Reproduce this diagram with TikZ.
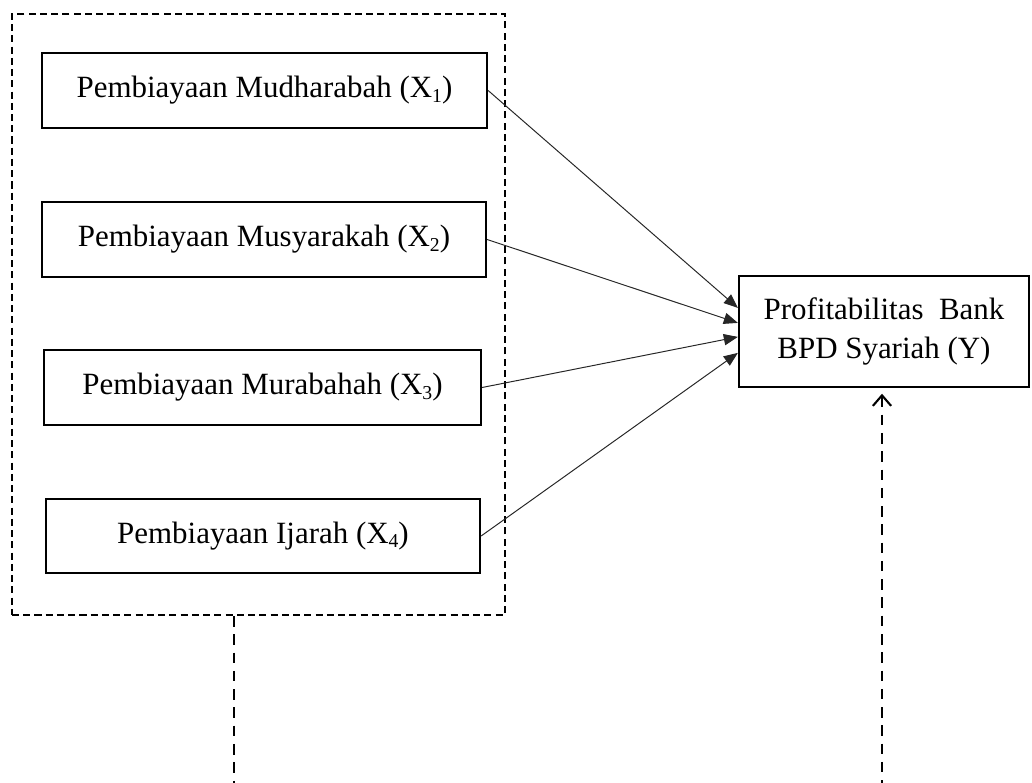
\documentclass[tikz,border=0pt]{standalone}
\usepackage{fontspec}
\setmainfont{Liberation Serif}
\usetikzlibrary{arrows.meta}

\newcommand{\xsub}[1]{\raisebox{-0.3ex}{\fontsize{14}{14}\selectfont #1}}

\begin{document}
\begin{tikzpicture}[
        varbox/.style={draw, line width=1.6pt, minimum height=1.875cm, inner sep=0pt,
            font=\fontsize{22}{27.6}\selectfont},
        link/.style={-{Triangle[length=10pt,width=8pt]}, line width=0.7pt, black!85},
        dashline/.style={line width=1.7pt, dash pattern=on 7.5pt off 5.5pt}
    ]
                \useasboundingbox (0,0) rectangle (25.8,-19.575);

                % independent variables
                \node[varbox, minimum width=11.125cm] (x1) at (6.6125,-2.2625) {Pembiayaan Mudharabah (X\xsub{1})};
                \node[varbox, minimum width=11.1cm] (x2) at (6.6,-5.9875) {Pembiayaan Musyarakah (X\xsub{2})};
                \node[varbox, minimum width=10.925cm] (x3) at (6.5625,-9.6875) {Pembiayaan Murabahah (X\xsub{3})};
                \node[varbox, minimum width=10.85cm, minimum height=1.85cm] (x4) at (6.575,-13.4) {Pembiayaan Ijarah (X\xsub{4})};

                % dependent variable
                \node[varbox, minimum width=7.25cm, minimum height=2.775cm, align=center] (y) at (22.1,-8.2875) {Profitabilitas\ \ Bank\\BPD Syariah (Y)};

                % group of X
                \node[draw, line width=1.5pt, dash pattern=on 5pt off 3pt, minimum width=12.325cm, minimum height=15.025cm] (grp) at (6.4625,-7.8625) {};

                \draw[link] (x1.east) -- ([yshift=0.59cm]y.west);
                \draw[link] (x2.east) -- ([yshift=0.215cm]y.west);
                \draw[link] (x3.east) -- ([yshift=-0.135cm]y.west);
                \draw[link] (x4.east) -- ([yshift=-0.535cm]y.west);

                \coordinate (lb) at (5.85,-19.575);
                \coordinate (rb) at (22.05,-19.575);
                \draw[dashline] (grp.south -| lb) -- (lb);
                \draw[dashline, {Straight Barb[length=7.5pt,width=13pt,line width=1.5pt]}-, shorten <=4pt] (rb |- y.south) -- (rb);
            \end{tikzpicture}
\end{document}
